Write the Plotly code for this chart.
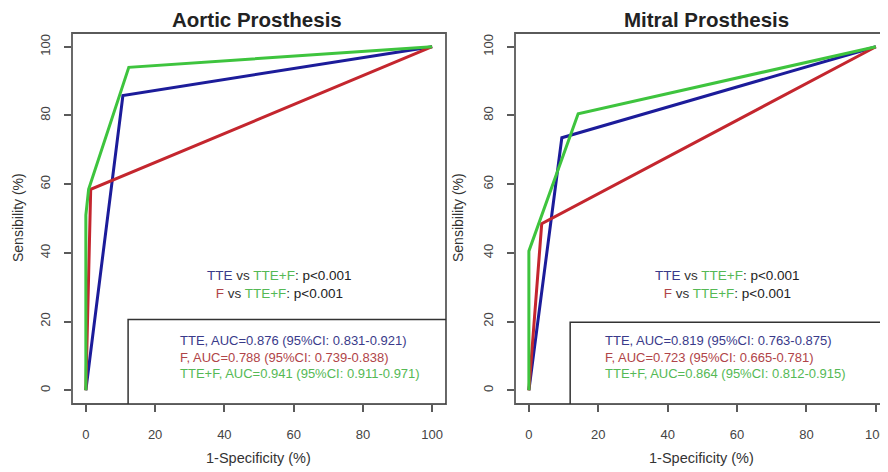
import plotly.graph_objects as go

# ---- data ----
ticks = [0, 20, 40, 60, 80, 100]
tick_labels = ["0", "20", "40", "60", "80", "100"]

aortic_tte_x = [0, 10.7, 100]
aortic_tte_y = [0, 85.8, 100]
aortic_f_x = [0, 1.4, 100]
aortic_f_y = [0, 58.5, 100]
aortic_tf_x = [0, 0, 0.8, 12.4, 100]
aortic_tf_y = [0, 51, 58.5, 94, 100]

mitral_tte_x = [0, 9.5, 100]
mitral_tte_y = [0, 73.5, 100]
mitral_f_x = [0, 3.7, 100]
mitral_f_y = [0, 48.5, 100]
mitral_tf_x = [0, 0, 14.2, 100]
mitral_tf_y = [0, 40.5, 80.5, 100]

aortic_legend = ["TTE, AUC=0.876 (95%CI: 0.831-0.921)",
                 "F, AUC=0.788 (95%CI: 0.739-0.838)",
                 "TTE+F, AUC=0.941 (95%CI: 0.911-0.971)"]
mitral_legend = ["TTE, AUC=0.819 (95%CI: 0.763-0.875)",
                 "F, AUC=0.723 (95%CI: 0.665-0.781)",
                 "TTE+F, AUC=0.864 (95%CI: 0.812-0.915)"]

BLUE = "#1c1c9a"
RED = "#c4262e"
GREEN = "#3ec43e"
TXT_BLUE = "#3a3a8a"
TXT_RED = "#b04448"
TXT_GREEN = "#55b955"
GRAY = "#5a5a5a"
FONT = "Liberation Sans, Arial, sans-serif"

# page body has an 8px margin; figure occupies 8..888 x 8..472
OFF = 8
W, H = 880, 464


def px(xp):
    return (xp - OFF) / W


def py(yp):
    return 1 - (yp - OFF) / H


fig = go.Figure()


def add_curves(series, xa, ya):
    for (x, y, c) in series:
        fig.add_trace(go.Scatter(x=x, y=y, mode="lines", line=dict(color=c, width=3),
                                 xaxis=xa, yaxis=ya, showlegend=False, hoverinfo="skip"))


add_curves([(aortic_tte_x, aortic_tte_y, BLUE), (aortic_f_x, aortic_f_y, RED),
            (aortic_tf_x, aortic_tf_y, GREEN)], "x", "y")
add_curves([(mitral_tte_x, mitral_tte_y, BLUE), (mitral_f_x, mitral_f_y, RED),
            (mitral_tf_x, mitral_tf_y, GREEN)], "x2", "y2")

ydom = [py(404), py(33)]
common_x = dict(tickvals=ticks, ticktext=tick_labels, ticks="outside", ticklen=7, tickwidth=1.5,
                tickcolor=GRAY, showgrid=False, zeroline=False, showline=False,
                tickfont=dict(family=FONT, size=13, color="#444"), ticklabelstandoff=11)
common_y = dict(tickvals=ticks, ticktext=tick_labels, ticks="outside", ticklen=7, tickwidth=1.5,
                tickcolor=GRAY, showgrid=False, zeroline=False, showline=False, tickangle=-90,
                tickfont=dict(family=FONT, size=13, color="#444"), ticklabelstandoff=9,
                domain=ydom, range=[-4, 104])

fig.update_layout(
    width=W, height=H, margin=dict(l=0, r=0, t=0, b=0),
    paper_bgcolor="white", plot_bgcolor="white",
    xaxis=dict(domain=[px(72), px(446)], range=[-4, 104], anchor="y", **common_x),
    yaxis=dict(anchor="x", **common_y),
    xaxis2=dict(domain=[px(515), 1], range=[-4, 103.5], anchor="y2", **common_x),
    yaxis2=dict(anchor="x2", **common_y),
)

shapes = []
# plot boxes
shapes.append(dict(type="rect", xref="x domain", yref="y domain", x0=0, x1=1, y0=0, y1=1,
                   line=dict(color=GRAY, width=1.8), layer="above"))
shapes.append(dict(type="rect", xref="x2 domain", yref="y2 domain", x0=0, x1=1.006, y0=0, y1=1,
                   line=dict(color=GRAY, width=1.8), layer="above"))
# legend boxes
shapes.append(dict(type="rect", xref="x", yref="y", x0=12.2, x1=104, y0=-4, y1=20.6,
                   line=dict(color="#333", width=1.5), fillcolor="white", layer="above"))
shapes.append(dict(type="rect", xref="x2", yref="y2", x0=11.9, x1=106, y0=-4, y1=19.8,
                   line=dict(color="#333", width=1.5), fillcolor="white", layer="above"))
fig.update_layout(shapes=shapes)

ann = []
# titles
ann.append(dict(text="<b>Aortic Prosthesis</b>", x=px(257), y=py(20), xref="paper", yref="paper",
                xanchor="center", yanchor="middle", showarrow=False,
                font=dict(family=FONT, size=20.5, color="#222")))
ann.append(dict(text="<b>Mitral Prosthesis</b>", x=px(706), y=py(20), xref="paper", yref="paper",
                xanchor="center", yanchor="middle", showarrow=False,
                font=dict(family=FONT, size=20.5, color="#222")))
# axis titles
for xc in (258, 701):
    ann.append(dict(text="1-Specificity (%)", x=px(xc), y=py(458), xref="paper", yref="paper",
                    xanchor="center", yanchor="middle", showarrow=False,
                    font=dict(family=FONT, size=14.5, color="#333")))
for xc in (18, 458):
    ann.append(dict(text="Sensibility (%)", x=px(xc), y=py(218), xref="paper", yref="paper",
                    xanchor="center", yanchor="middle", showarrow=False, textangle=-90,
                    font=dict(family=FONT, size=14, color="#333")))


def pval_block(xa, ya, xc):
    l1 = (f"<span style='color:{TXT_BLUE}'>TTE</span> <span style='color:#333'>vs</span> "
          f"<span style='color:{TXT_GREEN}'>TTE+F</span><span style='color:#222'>: p&lt;0.001</span>")
    l2 = (f"<span style='color:{TXT_RED}'>F</span> <span style='color:#333'>vs</span> "
          f"<span style='color:{TXT_GREEN}'>TTE+F</span><span style='color:#222'>: p&lt;0.001</span>")
    return dict(text=l1 + "<br>" + l2, x=xc, y=30.7, xref=xa, yref=ya, showarrow=False,
                xanchor="center", yanchor="middle", align="center",
                font=dict(family=FONT, size=13.5))


ann.append(pval_block("x", "y", 56))
ann.append(pval_block("x2", "y2", 57.2))


def legend_lines(xa, ya, x0, labels):
    out = []
    for lab, yy, col in zip(labels, [14.5, 9.6, 4.9], [TXT_BLUE, TXT_RED, TXT_GREEN]):
        out.append(dict(text=lab, x=x0, y=yy, xref=xa, yref=ya, xanchor="left", yanchor="middle",
                        showarrow=False, font=dict(family=FONT, size=13, color=col)))
    return out


ann += legend_lines("x", "y", 26.5, aortic_legend)
ann += legend_lines("x2", "y2", 21.4, mitral_legend)

fig.update_layout(annotations=ann)

fig.write_html("out.html")
